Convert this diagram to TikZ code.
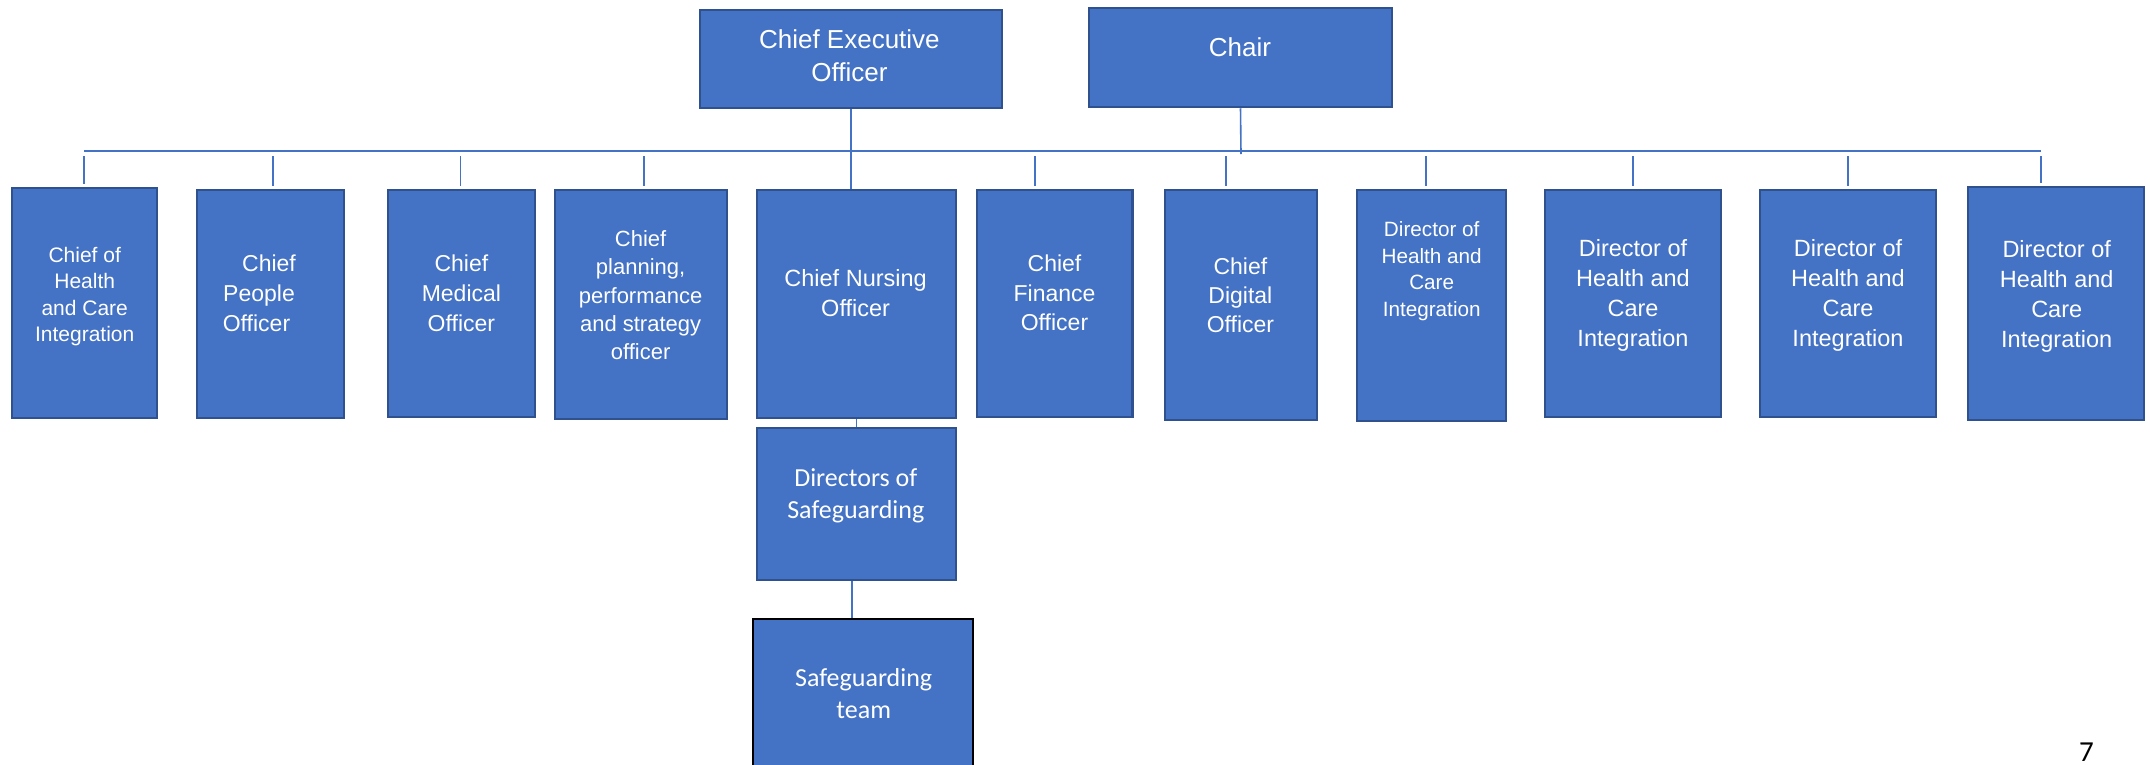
\documentclass[tikz,border=0pt]{standalone}
\usepackage{fontspec}
\setmainfont{Liberation Sans}
\newfontfamily\calib{Carlito}
\definecolor{boxblue}{HTML}{4472C4}
\definecolor{boxline}{HTML}{2F528F}
\definecolor{connblue}{HTML}{4472C4}
\newcommand\fs[2]{\fontsize{#1}{#2}\selectfont}
\newcommand\ml[1]{\begin{tabular}[t]{@{}c@{}}#1\end{tabular}}
\begin{document}
\begin{tikzpicture}[x=1pt,y=-1pt,
  box/.style={draw=boxline, fill=boxblue, line width=2.5pt, inner sep=0pt},
  conn/.style={draw=connblue, line width=1.6pt},
  lbl/.style={anchor=base, inner sep=0pt, text=white}]
\clip (0,0) rectangle (2150,764);
\fill[white] (0,0) rectangle (2150,764);
% boxes
\node[box, minimum width=302pt, minimum height=98pt] (ceo) at (851,59) {};
\node[box, minimum width=303pt, minimum height=99pt] (chair) at (1240.5,57.5) {};
\node[box, minimum width=145pt, minimum height=230pt] (b1) at (84.5,303) {};
\node[box, minimum width=147pt, minimum height=228pt] (b2) at (270.5,304) {};
\node[box, minimum width=147pt, minimum height=227pt] (b3) at (461.5,303.5) {};
\node[box, minimum width=172pt, minimum height=229pt] (b4) at (641,304.5) {};
\node[box, minimum width=199pt, minimum height=228pt] (cno) at (856.5,304) {};
\node[box, minimum width=155.5pt, minimum height=227pt] (cfo) at (1054.75,303.5) {};
\node[box, minimum width=152pt, minimum height=230pt] (cdo) at (1241,305) {};
\node[box, minimum width=149pt, minimum height=231pt] (d1) at (1431.5,305.5) {};
\node[box, minimum width=176pt, minimum height=227pt] (d2) at (1633,303.5) {};
\node[box, minimum width=176pt, minimum height=227pt] (d3) at (1848,303.5) {};
\node[box, minimum width=176pt, minimum height=233pt] (d4) at (2056,303.5) {};
\node[box, minimum width=199pt, minimum height=152pt] (dos) at (856.5,504) {};
\node[box, draw=black, line width=1.5pt, minimum width=220pt, minimum height=170pt] (team) at (863,704) {};
% connectors
\coordinate (hl) at (84,151);
\coordinate (hr) at (2041,151);
\draw[conn] (hl) -- (hr);
\draw[conn] (ceo.south) -- (ceo.south |- cno.north);
\coordinate (chairend) at (1241,154);
\draw[conn] (chair.south) -- (chairend);
\foreach \n/\x in {b1/84, b2/273, b3/460.5, b4/644, cfo/1035, cdo/1226, d1/1425.7, d2/1633, d3/1848, d4/2041}{
  \coordinate (tk\n) at (\x,151);
  \draw[conn, shorten <=5pt, shorten >=3pt] (tk\n) -- (tk\n |- \n.north);
}
\draw[conn] (cno.south) -- (dos.north);
\coordinate (dosst) at ([xshift=-4.5pt]dos.south);
\draw[conn] (dosst) -- (dosst |- team.north);
% labels
\node[lbl, font={\fs{26}{32.7}}] (tceo) at (849.4,48.3) {\ml{Chief Executive\\Officer}};
\node[lbl, font={\fs{26}{32}}] (tchair) at (1240,56) {\ml{Chair}};
\node[lbl, font={\fs{21}{26.6}}] (tb1) at (84.7,262) {\ml{Chief of\\Health\\and Care\\Integration}};
\node[lbl, font={\fs{23}{30}}] (tb2) at (259,271.7) {\ml{\hspace*{20pt}Chief\\People\\Officer\hspace*{5pt}}};
\node[lbl, font={\fs{23}{29.8}}] (tb3) at (461.4,271.7) {\ml{Chief\\Medical\\Officer}};
\node[lbl, font={\fs{22}{28.2}}] (tb4) at (640.6,246.7) {\ml{Chief\\planning,\\performance\\and strategy\\officer}};
\node[lbl, font={\fs{23.5}{29.3}}] (tcno) at (855.6,286.7) {\ml{Chief Nursing\\Officer}};
\node[lbl, font={\fs{23}{29.3}}] (tcfo) at (1054.5,271.7) {\ml{Chief\\Finance\\Officer}};
\node[lbl, font={\fs{23}{29}}] (tcdo) at (1240.4,274) {\ml{Chief\\Digital\\Officer}};
\node[lbl, font={\fs{20.7}{26.5}}] (td1) at (1431.7,236.7) {\ml{Director of\\Health and\\Care\\Integration}};
\node[lbl, font={\fs{23.5}{30}}] (td2) at (1633,256.7) {\ml{Director of\\Health and\\Care\\Integration}};
\node[lbl, font={\fs{23.5}{30}}] (td3) at (1848,256.7) {\ml{Director of\\Health and\\Care\\Integration}};
\node[lbl, font={\fs{23.5}{30}}] (td4) at (2056.7,257.7) {\ml{Director of\\Health and\\Care\\Integration}};
\node[lbl, font={\calib\fs{26}{32.3}}] (tdos) at (855.8,486) {\ml{Directors of\\Safeguarding}};
\node[lbl, font={\calib\fs{26}{32.3}}] (tteam) at (863.7,686) {\ml{Safeguarding\\team}};
\node[anchor=base west, inner sep=0pt, font={\calib\fs{29}{35}}] (pg) at (2079,761) {7};
\end{tikzpicture}
\end{document}
